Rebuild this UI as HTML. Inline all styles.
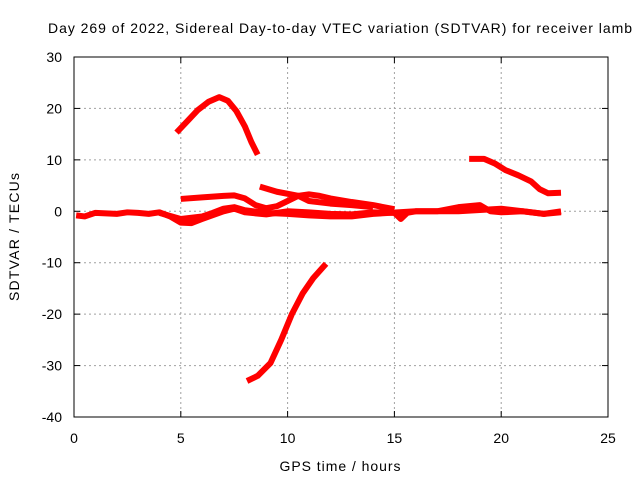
<!DOCTYPE html>
<html><head><meta charset="utf-8"><style>
body{margin:0;background:#fff}
svg{display:block;font-family:"Liberation Sans",sans-serif;font-size:14px}
</style></head><body>
<svg id="chart" width="640" height="480">
<rect width="640" height="480" fill="#fff"/>
<text x="48" y="33" textLength="584" lengthAdjust="spacing">Day 269 of 2022, Sidereal Day-to-day VTEC variation (SDTVAR) for receiver lamb</text>
<g id="grid"></g>
<g id="axes"></g>
<g id="series"></g>
<rect x="74" y="57" width="534" height="360" fill="none" stroke="#000" stroke-width="1"/>
<text x="340" y="471" text-anchor="middle" textLength="121">GPS time / hours</text>
<text transform="translate(19,237) rotate(-90)" text-anchor="middle" textLength="128">SDTVAR / TECUs</text>
</svg>
<script>
const xTicks=[0,5,10,15,20,25];
const yTicks=[30,20,10,0,-10,-20,-30,-40];
const arcSeries=[[4.8,15.3],[5.3,17.5],[5.8,19.7],[6.3,21.3],[6.8,22.2],[7.2,21.5],[7.6,19.5],[8.0,16.5],[8.3,13.5],[8.6,11]];
const dropSeries=[[8.1,-33],[8.6,-32],[9.2,-29.5],[9.7,-25],[10.2,-20],[10.7,-16],[11.2,-13],[11.8,-10.2]];
const lateSeries=[[18.5,10.2],[19.2,10.2],[19.7,9.3],[20.2,8],[20.8,7],[21.4,5.8],[21.8,4.3],[22.2,3.5],[22.8,3.6]];
const midSeries=[[5.0,2.4],[6,2.7],[7,3],[7.5,3.1],[8,2.5],[8.5,1.2],[9,0.6],[9.5,1],[10,2],[10.5,3],[11,3.3],[11.5,3],[12,2.5],[13,1.8],[14,1.2],[15,0.4]];
const mid2Series=[[8.7,4.8],[9.5,3.8],[10.5,3],[11,2],[12,1.5],[13,1.2],[14,0.8]];
const baseSeries=[[0.1,-0.8],[0.5,-1],[1,-0.3],[2,-0.5],[2.5,-0.2],[3,-0.3],[3.5,-0.5],[4,-0.2],[4.5,-1],[5,-2.2],[5.5,-2.3],[6,-1.5],[7,0],[7.5,0.5],[8,-0.2],[9,-0.6],[10,0],[11,-0.2],[12,-0.5],[13,-0.6],[14,-0.2],[15,-0.3],[15.3,-1.5],[15.6,-0.3],[16,0],[17,0],[18,0.8],[19,1.2],[19.5,0],[20,-0.2],[21,0],[22,-0.5],[22.8,-0.2]];
const base2Series=[[4,-0.3],[5,-1.5],[6,-1],[6.5,-0.3],[7,0.5],[7.5,0.8],[8,0.2],[9,-0.3],[10,-0.5],[11,-0.8],[12,-1],[13,-1],[14,-0.5],[16,0],[18,0],[20,0.5],[21,0],[22,-0.5],[22.8,0]];
const NS="http://www.w3.org/2000/svg";
const X=h=>74+h*534/25, Y=v=>57+(30-v)*360/70;
function mk(t,a,p){const e=document.createElementNS(NS,t);for(const k in a)e.setAttribute(k,a[k]);p.appendChild(e);return e;}
const grid=document.getElementById('grid'),axes=document.getElementById('axes'),ser=document.getElementById('series');
xTicks.forEach(t=>{
 if(t>0&&t<25){const l=mk('line',{x1:X(t),x2:X(t),y1:57,y2:417,stroke:'#a0a0a0','stroke-dasharray':'2,3'},grid);
 
 }
 mk('line',{x1:X(t),x2:X(t),y1:417,y2:411,stroke:'#000'},axes);
 mk('line',{x1:X(t),x2:X(t),y1:57,y2:63,stroke:'#000'},axes);
 const tx=mk('text',{x:X(t),y:443,'text-anchor':'middle'},axes);tx.textContent=t;
 
 
});
yTicks.forEach(t=>{
 if(t<30&&t>-40){const l=mk('line',{x1:74,x2:608,y1:Y(t),y2:Y(t),stroke:'#a0a0a0','stroke-dasharray':'2,3'},grid);
 
 }
 mk('line',{x1:74,x2:80,y1:Y(t),y2:Y(t),stroke:'#000'},axes);
 mk('line',{x1:602,x2:608,y1:Y(t),y2:Y(t),stroke:'#000'},axes);
 const tx=mk('text',{x:62,y:Y(t)+5,'text-anchor':'end'},axes);tx.textContent=t;
 
 
});
[['arc',arcSeries],['drop',dropSeries],['late',lateSeries],['mid',midSeries],['mid2',mid2Series],['base',baseSeries],['base2',base2Series]].forEach(([n,d])=>{
 const p=mk('polyline',{points:d.map(q=>X(q[0])+','+Y(q[1])).join(' '),fill:'none',stroke:'#ff0000','stroke-width':6,'stroke-linejoin':'round'},ser);
 
 
});
</script>
</body></html>
